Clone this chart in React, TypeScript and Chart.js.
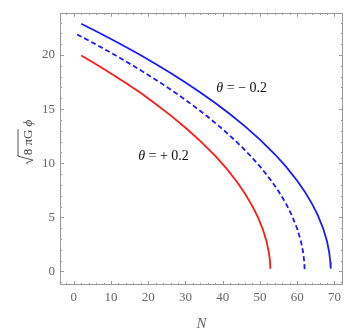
import React, { useEffect, useRef } from "react";
import { Chart, registerables } from "chart.js";
Chart.register(...registerables);

const xTicks = [0, 10, 20, 30, 40, 50, 60, 70];
const yTicks = [0, 5, 10, 15, 20];

// theta = +0.2 (red, solid)
const redN = [2, 6, 10, 14, 18, 22, 26, 30, 34, 38, 41, 44, 46, 48, 49.5, 50.8, 51.8, 52.4, 52.7, 52.8];
const redPhi = [19.96, 19.15, 18.3, 17.42, 16.48, 15.48, 14.42, 13.28, 12.04, 10.68, 9.52, 8.2, 7.18, 6.02, 4.98, 3.88, 2.75, 1.74, 0.95, 0.25];

// theta = 0 (blue, dashed)
const dashN = [0.9, 4, 8, 12, 16, 20, 24, 28, 32, 36, 40, 44, 47, 50, 53, 55, 57, 58.5, 60, 61, 61.6, 61.9, 62.0];
const dashPhi = [21.9, 21.34, 20.59, 19.81, 19.0, 18.16, 17.27, 16.34, 15.35, 14.29, 13.14, 11.89, 10.85, 9.71, 8.41, 7.41, 6.27, 5.24, 3.96, 2.8, 1.77, 0.89, 0.15];

// theta = -0.2 (blue, solid)
const blueN = [2, 6, 10, 14, 18, 22, 26, 30, 34, 38, 42, 46, 50, 54, 57, 60, 62, 64, 65.5, 67, 68, 68.6, 68.9, 69.0];
const bluePhi = [22.89, 22.19, 21.48, 20.74, 19.97, 19.17, 18.34, 17.46, 16.54, 15.57, 14.53, 13.41, 12.19, 10.83, 9.69, 8.39, 7.4, 6.25, 5.23, 3.95, 2.8, 1.77, 0.9, 0.25];

const labelTexts = ["\u2212 0.2", "+ 0.2"];
const labelN = [45.1, 24.1];
const labelPhi = [16.9, 10.6];

const X_MIN = -3.7;
const X_MAX = 72.3;
const Y_MIN = -1.25;
const Y_MAX = 23.9;

const SERIF = "'Liberation Serif', 'DejaVu Serif', serif";
const AXIS_COLOR = "#9a9a9a";
const TICK_TEXT = "#666666";

const pts = (xs: number[], ys: number[]) => xs.map((x, i) => ({ x, y: ys[i] }));

const framePlugin = {
  id: "frameTicks",
  afterDraw(chart: any) {
    const { ctx, chartArea: a, scales } = chart;
    const xs = scales.x;
    const ys = scales.y;
    ctx.save();
    ctx.strokeStyle = AXIS_COLOR;
    ctx.lineWidth = 1;
    ctx.strokeRect(Math.round(a.left) + 0.5, Math.round(a.top) + 0.5, Math.round(a.right - a.left) - 1, Math.round(a.bottom - a.top) - 1);
    ctx.beginPath();
    for (let v = -2; v <= X_MAX; v += 2) {
      const px = Math.round(xs.getPixelForValue(v)) + 0.5;
      const len = v % 10 === 0 ? 4 : 2.2;
      ctx.moveTo(px, a.bottom);
      ctx.lineTo(px, a.bottom - len);
      ctx.moveTo(px, a.top);
      ctx.lineTo(px, a.top + len);
    }
    for (let v = -1; v <= Y_MAX; v += 1) {
      const py = Math.round(ys.getPixelForValue(v)) + 0.5;
      const len = v % 5 === 0 ? 4 : 2.2;
      ctx.moveTo(a.left, py);
      ctx.lineTo(a.left + len, py);
      ctx.moveTo(a.right, py);
      ctx.lineTo(a.right - len, py);
    }
    ctx.stroke();

    // annotations
    ctx.fillStyle = "#111";
    ctx.textBaseline = "middle";
    labelTexts.forEach((t, i) => {
      const cx = xs.getPixelForValue(labelN[i]);
      const cy = ys.getPixelForValue(labelPhi[i]);
      ctx.font = `italic 14px ${SERIF}`;
      const w1 = ctx.measureText("\u03b8").width;
      ctx.font = `14px ${SERIF}`;
      const rest = " = " + t;
      const w2 = ctx.measureText(rest).width;
      const x0 = cx - (w1 + w2) / 2;
      ctx.textAlign = "left";
      ctx.font = `italic 14px ${SERIF}`;
      ctx.fillText("\u03b8", x0, cy);
      ctx.font = `14px ${SERIF}`;
      ctx.fillText(rest, x0 + w1, cy);
    });

    // y title: sqrt(8 pi G) phi, radical drawn as strokes
    ctx.save();
    ctx.translate(27, 142);
    ctx.rotate(-Math.PI / 2);
    ctx.fillStyle = "#444";
    ctx.strokeStyle = "#444";
    ctx.textBaseline = "alphabetic";
    ctx.textAlign = "left";
    const fs = 13;
    const wSq = 9;
    ctx.font = `${fs}px ${SERIF}`;
    const inner = "8 \u03c0G";
    const wIn = ctx.measureText(inner).width;
    ctx.font = `italic ${fs}px ${SERIF}`;
    const ph = " \u03d5";
    const wPh = ctx.measureText(ph).width;
    const total = wSq + wIn + wPh;
    let x = -total / 2;
    ctx.lineWidth = 0.9;
    ctx.lineJoin = "miter";
    ctx.beginPath();
    ctx.moveTo(x, 0.5);
    ctx.lineTo(x + 1.6, -0.6);
    ctx.lineTo(x + 4.2, 6);
    ctx.lineTo(x + 8.2, -9);
    ctx.lineTo(x + wSq + wIn + 0.5, -9);
    ctx.stroke();
    x += wSq;
    ctx.font = `${fs}px ${SERIF}`;
    ctx.fillText(inner, x, 5);
    x += wIn;
    ctx.font = `italic ${fs}px ${SERIF}`;
    ctx.fillText(ph, x, 5);
    ctx.restore();

    ctx.restore();
  },
};

export default function App() {
  const ref = useRef<HTMLCanvasElement | null>(null);
  useEffect(() => {
    document.body.style.margin = "0";
    const canvas = ref.current!;
    const chart = new Chart(canvas, {
      type: "scatter",
      data: {
        datasets: [
          {
            data: pts(redN, redPhi),
            showLine: true,
            borderColor: "#ff1a1a",
            borderWidth: 1.8,
            pointRadius: 0,
            tension: 0,
          },
          {
            data: pts(dashN, dashPhi),
            showLine: true,
            borderColor: "#1a1aff",
            borderWidth: 1.8,
            borderDash: [5, 3],
            pointRadius: 0,
            tension: 0,
          },
          {
            data: pts(blueN, bluePhi),
            showLine: true,
            borderColor: "#1a1aff",
            borderWidth: 1.8,
            pointRadius: 0,
            tension: 0,
          },
        ],
      },
      options: {
        animation: false,
        responsive: false,
        maintainAspectRatio: false,
        layout: { padding: { top: 2, right: 3, left: 0, bottom: 0 } },
        plugins: { legend: { display: false }, tooltip: { enabled: false } },
        scales: {
          x: {
            type: "linear",
            min: X_MIN,
            max: X_MAX,
            afterBuildTicks: (s: any) => {
              s.ticks = xTicks.map((v) => ({ value: v }));
            },
            afterFit: (s: any) => {
              s.height = 48;
            },
            grid: { display: false, drawTicks: false },
            border: { display: false },
            ticks: {
              color: TICK_TEXT,
              font: { family: SERIF, size: 13 },
              padding: 5,
              maxRotation: 0,
              autoSkip: false,
            },
            title: {
              display: true,
              text: "N",
              color: TICK_TEXT,
              font: { family: SERIF, size: 15, style: "italic" },
              padding: { top: 6, bottom: 0 },
            },
          },
          y: {
            type: "linear",
            min: Y_MIN,
            max: Y_MAX,
            afterBuildTicks: (s: any) => {
              s.ticks = yTicks.map((v) => ({ value: v }));
            },
            afterFit: (s: any) => {
              s.width = 60;
            },
            grid: { display: false, drawTicks: false },
            border: { display: false },
            ticks: {
              color: TICK_TEXT,
              font: { family: SERIF, size: 13 },
              padding: 5,
            },
          },
        },
      },
      plugins: [framePlugin],
    } as any);
    return () => chart.destroy();
  }, []);
  return (
    <div style={{ width: 346, height: 333 }}>
      <canvas ref={ref} width={346} height={333} style={{ display: "block" }} />
    </div>
  );
}
